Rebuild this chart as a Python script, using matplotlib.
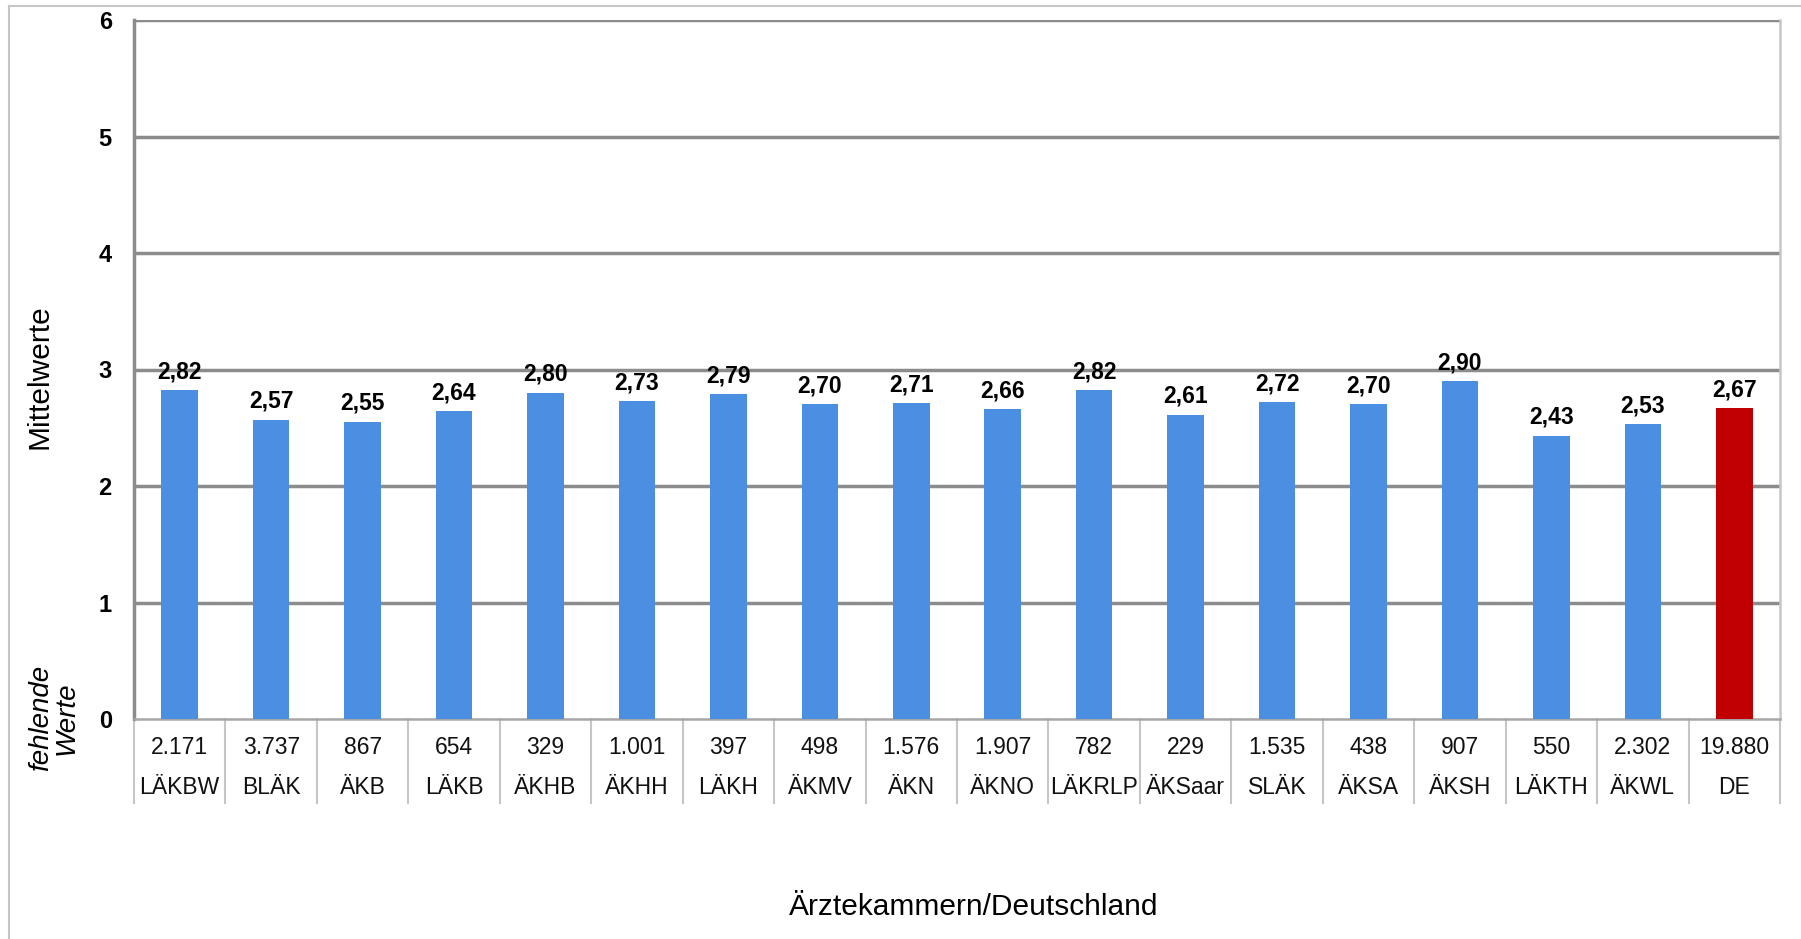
import matplotlib.pyplot as plt
from matplotlib.lines import Line2D

plt.rcParams["font.family"] = ["Liberation Sans", "DejaVu Sans"]

INK = "#000000"
GRID = "#8C8C8C"
LIGHT = "#C6C6C6"
BLUE = "#4A8FE2"
RED = "#C00000"

chambers = ["LÄKBW", "BLÄK", "ÄKB", "LÄKB", "ÄKHB", "ÄKHH", "LÄKH", "ÄKMV", "ÄKN",
            "ÄKNO", "LÄKRLP", "ÄKSaar", "SLÄK", "ÄKSA", "ÄKSH", "LÄKTH", "ÄKWL", "DE"]
means = [2.82, 2.57, 2.55, 2.64, 2.80, 2.73, 2.79, 2.70, 2.71,
         2.66, 2.82, 2.61, 2.72, 2.70, 2.90, 2.43, 2.53, 2.67]
missing = [2171, 3737, 867, 654, 329, 1001, 397, 498, 1576,
           1907, 782, 229, 1535, 438, 907, 550, 2302, 19880]
y_ticks = [0, 1, 2, 3, 4, 5, 6]

W, H = 1801, 939
fig = plt.figure(figsize=(W / 100, H / 100), dpi=100)
fig.patch.set_facecolor("white")
ax = fig.add_axes([134 / W, 1 - 719 / H, (1780 - 134) / W, (719 - 20) / H])

# outer frame (left and top only)
fig.add_artist(Line2D([9 / W, 9 / W], [0, 1 - 6 / H], transform=fig.transFigure,
                      color=LIGHT, linewidth=1.5))
fig.add_artist(Line2D([9 / W, 1], [1 - 6 / H, 1 - 6 / H], transform=fig.transFigure,
                      color=LIGHT, linewidth=1.5))

x = list(range(len(chambers)))
colors = [RED if name == "DE" else BLUE for name in chambers]
ax.bar(x, means, width=0.4, color=colors, zorder=3)

for xi, v in zip(x, means):
    ax.annotate(f"{v:.2f}".replace(".", ","), xy=(xi, v), xytext=(0, 5),
                textcoords="offset points", ha="center", va="bottom",
                fontsize=16.5, fontweight="bold", color=INK, zorder=5)

ax.set_xlim(-0.5, len(chambers) - 0.5)
ax.set_ylim(0, 6)
ax.set_yticks(y_ticks)
ax.tick_params(axis="y", length=0, pad=16, labelsize=17, labelcolor=INK)
ax.set_xticks([])
for label in ax.get_yticklabels():
    label.set_fontweight("bold")
for t in y_ticks[1:]:
    ax.axhline(t, color=GRID, linewidth=2.5, zorder=2)

ax.spines["left"].set_color(GRID)
ax.spines["left"].set_linewidth(2.5)
ax.spines["top"].set_visible(False)
ax.spines["right"].set_color(LIGHT)
ax.spines["right"].set_linewidth(1.8)
ax.spines["bottom"].set_color("#A6A6A6")
ax.spines["bottom"].set_linewidth(1.8)

# table below the axis
axh = 719 - 20
row1 = -(748 - 719) / axh
row2 = -(788 - 719) / axh
table_bottom = -(803 - 719) / axh
trans = ax.get_xaxis_transform()
for xi, name, n in zip(x, chambers, missing):
    ax.text(xi, row1, f"{n:,}".replace(",", "."), transform=trans, ha="center",
            va="center", fontsize=16.5, color="#111111", clip_on=False)
    ax.text(xi, row2, name, transform=trans, ha="center", va="center",
            fontsize=16.5, color="#111111", clip_on=False)
for xb in [i - 0.5 for i in range(len(chambers) + 1)]:
    ax.add_line(Line2D([xb, xb], [table_bottom, 0], transform=trans,
                       color=LIGHT, linewidth=1.5, clip_on=False))

fig.text(40 / W, 1 - 377 / H, "Mittelwerte", rotation=90, ha="center", va="center",
         fontsize=21.5, color=INK)
fig.text(54 / W, 1 - 718 / H, "fehlende\nWerte", rotation=90, ha="center", va="center",
         fontsize=20, style="italic", color=INK, linespacing=1.0)
fig.text(974 / W, 1 - 907 / H, "Ärztekammern/Deutschland", ha="center", va="center",
         fontsize=21.5, color=INK)

fig.savefig("out.png", dpi=100, facecolor="white")
